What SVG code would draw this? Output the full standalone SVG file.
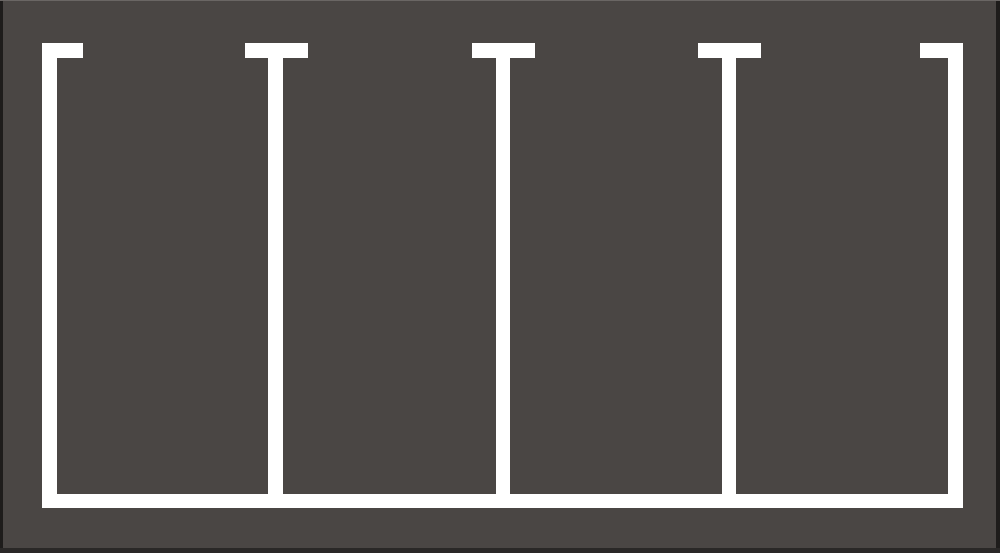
<svg xmlns="http://www.w3.org/2000/svg" width="1000" height="553" viewBox="0 0 1000 553">
<style>.w{fill:#ffffff}</style>
<rect x="0" y="0" width="1000" height="553" fill="#4a4644"/>
<rect x="0" y="0" width="3" height="553" fill="#1e1c1b"/>
<rect x="996" y="0" width="4" height="553" fill="#1e1c1b"/>
<rect x="0" y="0" width="1000" height="1" fill="#6a6664"/>
<rect x="0" y="548" width="1000" height="5" fill="#2a2827"/>
<g id="lines">
<rect class="w" x="42" y="43" width="41" height="15"/>
<rect class="w" x="42" y="43" width="15" height="465"/>
<rect class="w" x="42" y="494" width="921" height="14"/>
<rect class="w" x="920" y="43" width="43" height="15"/>
<rect class="w" x="948" y="43" width="15" height="465"/>
<rect class="w" x="245" y="43" width="63" height="15"/>
<rect class="w" x="268" y="43" width="15" height="465"/>
<rect class="w" x="472" y="43" width="63" height="15"/>
<rect class="w" x="496" y="43" width="14" height="465"/>
<rect class="w" x="698" y="43" width="63" height="15"/>
<rect class="w" x="722" y="43" width="14" height="465"/>
</g>
</svg>
